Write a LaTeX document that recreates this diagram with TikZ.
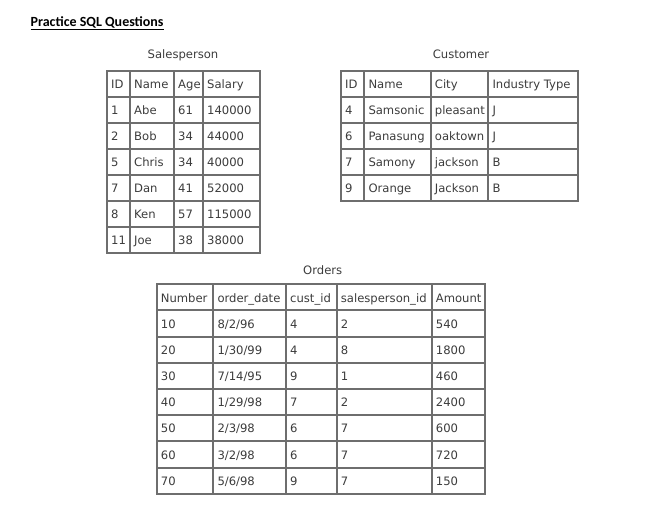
\documentclass[tikz,border=0pt]{standalone}
\usepackage{fontspec}
\setmainfont{DejaVu Sans}
\newfontfamily\titlefont{Carlito}
\definecolor{txt}{HTML}{3C3C3C}
\definecolor{bord}{HTML}{6E6E6E}
\begin{document}
\begin{tikzpicture}[x=1bp,y=-1bp,
  cell/.style={anchor=base west,inner sep=0pt,font=\fontsize{11.6bp}{14bp}\selectfont,text=txt},
  caption/.style={anchor=base,inner sep=0pt,font=\fontsize{11.6bp}{14bp}\selectfont,text=txt},
  grid/.style={draw=bord,line width=2bp,line cap=rect}]
\useasboundingbox[fill=white] (0,0) rectangle (652,513);

% title
\node[anchor=base west,inner sep=0pt,font=\titlefont\bfseries\fontsize{14bp}{16bp}\selectfont] (title) at (30.5,26.3) {Practice SQL Questions};
\draw[line width=1.2bp] ([yshift=-3.4bp]title.base west) -- ([yshift=-3.4bp]title.base east);

% captions
\node[caption] (capS) at (183,58.6) {Salesperson};
\node[caption] (capC) at (461,58.8) {Customer};
\node[caption] (capO) at (322.7,274) {Orders};

% ---- Salesperson grid
\foreach \x in {107,130,174,203,260} \draw[grid] (\x,70.7) -- (\x,253.3);
\foreach \k in {0,...,7} \draw[grid] (107,70.7+26.09*\k) -- (260,70.7+26.09*\k);
\foreach \row [count=\r from 0] in {{ID,Name,Age,Salary},{1,Abe,61,140000},{2,Bob,34,44000},{5,Chris,34,40000},{7,Dan,41,52000},{8,Ken,57,115000},{11,Joe,38,38000}}{
  \foreach \c [count=\i from 0] in \row {
    \pgfmathsetmacro\xx{{107,130,174,203}[\i]}
    \node[cell] (sp-\r-\i) at (\xx+4,70.7+26.09*\r+17.7) {\c};
  }
}

% ---- Customer grid
\foreach \x in {341,364.3,430.7,488.3,578.3} \draw[grid] (\x,71) -- (\x,201);
\foreach \k in {0,...,5} \draw[grid] (341,71+26*\k) -- (578.3,71+26*\k);
\foreach \row [count=\r from 0] in {{ID,Name,City,Industry Type},{4,Samsonic,pleasant,J},{6,Panasung,oaktown,J},{7,Samony,jackson,B},{9,Orange,Jackson,B}}{
  \foreach \c [count=\i from 0] in \row {
    \pgfmathsetmacro\xx{{341,364.3,430.7,488.3}[\i]}
    \node[cell] (cu-\r-\i) at (\xx+4,71+26*\r+17.7) {\c};
  }
}

% ---- Orders grid
\foreach \x in {156.7,213.3,286,336.7,431.7,485} \draw[grid] (\x,284.3) -- (\x,493.7);
\foreach \k in {0,...,8} \draw[grid] (156.7,284.3+26.18*\k) -- (485,284.3+26.18*\k);
\foreach \row [count=\r from 0] in {{Number,order\_date,cust\_id,salesperson\_id,Amount},{10,8/2/96,4,2,540},{20,1/30/99,4,8,1800},{30,7/14/95,9,1,460},{40,1/29/98,7,2,2400},{50,2/3/98,6,7,600},{60,3/2/98,6,7,720},{70,5/6/98,9,7,150}}{
  \foreach \c [count=\i from 0] in \row {
    \pgfmathsetmacro\xx{{156.7,213.3,286,336.7,431.7}[\i]}
    \node[cell] (or-\r-\i) at (\xx+4,284.3+26.18*\r+17.7) {\c};
  }
}
\end{tikzpicture}
\end{document}
